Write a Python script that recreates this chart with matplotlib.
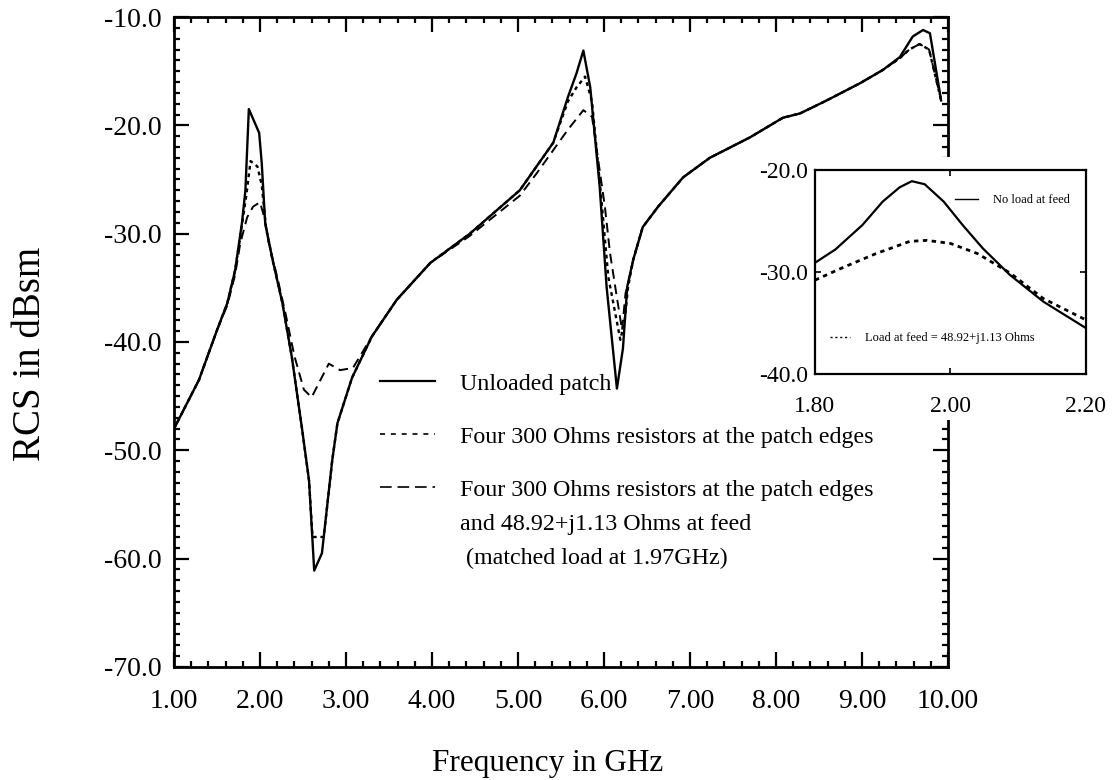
import matplotlib
matplotlib.use("Agg")
import matplotlib.pyplot as plt
from matplotlib.ticker import MultipleLocator, FormatStrFormatter, FixedLocator
from matplotlib.lines import Line2D
from matplotlib.patches import Rectangle

plt.rcParams['font.family'] = ['Liberation Serif', 'DejaVu Serif']
plt.rcParams['axes.unicode_minus'] = False

# unloaded patch (solid)
f_unl = [1.00, 1.29, 1.50, 1.62, 1.71, 1.79, 1.83, 1.87, 1.99, 2.02, 2.06, 2.14, 2.26, 2.37,
         2.49, 2.57, 2.63, 2.72, 2.78, 2.84, 2.90, 3.07, 3.30, 3.59, 3.98, 4.44, 5.02, 5.41,
         5.58, 5.68, 5.76, 5.84, 5.95, 6.03, 6.15, 6.22, 6.27, 6.34, 6.45, 6.63, 6.92, 7.23,
         7.70, 8.08, 8.28, 8.59, 8.98, 9.24, 9.44, 9.59, 9.71, 9.79, 9.92]
rcs_unl = [-48.0, -43.5, -38.9, -36.4, -33.4, -29.0, -26.0, -18.5, -20.7, -23.5, -29.0, -32.2,
           -36.4, -41.4, -48.1, -52.8, -61.1, -59.5, -55.2, -50.9, -47.5, -43.3, -39.5, -36.1,
           -32.7, -30.0, -26.0, -21.6, -17.4, -15.2, -13.1, -16.5, -25.7, -34.9, -44.3, -40.6,
           -34.9, -32.4, -29.4, -27.5, -24.8, -23.0, -21.1, -19.3, -18.9, -17.7, -16.1, -14.9,
           -13.7, -11.8, -11.2, -11.5, -17.7]

# four 300 ohm resistors (dotted)
f_res = [1.00, 1.29, 1.50, 1.62, 1.71, 1.79, 1.84, 1.89, 1.97, 2.02, 2.07, 2.14, 2.26, 2.37,
         2.49, 2.57, 2.61, 2.74, 2.78, 2.84, 2.90, 3.07, 3.30, 3.59, 3.98, 4.44, 5.02, 5.41,
         5.58, 5.68, 5.78, 5.86, 5.96, 6.05, 6.19, 6.24, 6.28, 6.34, 6.45, 6.63, 6.92, 7.23,
         7.70, 8.08, 8.28, 8.59, 8.98, 9.24, 9.44, 9.55, 9.67, 9.78, 9.92]
rcs_res = [-48.0, -43.5, -38.9, -36.4, -33.4, -29.2, -26.5, -23.3, -23.8, -25.5, -29.5, -32.2,
           -36.4, -41.4, -48.1, -52.8, -58.0, -58.0, -55.2, -50.9, -47.5, -43.3, -39.5, -36.1,
           -32.7, -30.0, -26.0, -21.6, -17.8, -16.5, -15.5, -17.8, -26.0, -34.0, -39.8, -38.0,
           -34.9, -32.4, -29.4, -27.5, -24.8, -23.0, -21.1, -19.3, -18.9, -17.7, -16.1, -14.9,
           -13.8, -13.0, -12.5, -13.0, -17.7]

# resistors + matched feed load (dashed)
f_mat = [1.00, 1.29, 1.50, 1.62, 1.71, 1.77, 1.85, 1.92, 2.00, 2.05, 2.10, 2.20, 2.30, 2.40,
         2.51, 2.60, 2.80, 2.93, 3.08, 3.30, 3.59, 3.98, 4.44, 5.02, 5.22, 5.49, 5.58, 5.76,
         5.86, 6.01, 6.07, 6.15, 6.21, 6.25, 6.28, 6.34, 6.45, 6.63, 6.92, 7.23, 7.70, 8.08,
         8.28, 8.59, 8.98, 9.24, 9.44, 9.55, 9.67, 9.78, 9.92]
rcs_mat = [-48.0, -43.5, -38.9, -36.6, -33.8, -30.9, -28.5, -27.5, -27.1, -28.5, -30.8, -34.0,
           -37.5, -41.3, -44.4, -45.1, -42.0, -42.6, -42.4, -39.5, -36.1, -32.7, -30.2, -26.5,
           -24.4, -21.4, -20.4, -18.6, -19.2, -27.5, -31.8, -35.9, -38.9, -35.5, -34.6, -32.4,
           -29.4, -27.5, -24.8, -23.0, -21.1, -19.3, -18.9, -17.7, -16.1, -14.9, -13.8, -13.0,
           -12.5, -13.0, -17.7]

# inset: around 1.8-2.2 GHz
f_in_a = [1.80, 1.83, 1.87, 1.90, 1.925, 1.943, 1.962, 1.99, 2.018, 2.048, 2.088, 2.137, 2.20]
rcs_noload = [-29.1, -27.8, -25.4, -23.1, -21.7, -21.1, -21.4, -23.1, -25.4, -27.7, -30.3, -32.9, -35.5]
f_in_b = [1.80, 1.84, 1.89, 1.94, 1.965, 2.00, 2.04, 2.088, 2.137, 2.20]
rcs_load = [-30.8, -29.6, -28.2, -27.0, -26.9, -27.2, -28.2, -30.1, -32.6, -34.7]

fig = plt.figure(figsize=(11.17, 7.80), dpi=100)
ax = fig.add_axes([0.1558, 0.1449, 0.6929, 0.8333])
ax.set_zorder(0)

ax.plot(f_unl, rcs_unl, color='black', lw=1.7, ls='-')
ax.plot(f_res, rcs_res, color='black', lw=1.7, ls=(0, (1.6, 1.6)))
ax.plot(f_mat, rcs_mat, color='black', lw=1.4, ls=(0, (5, 3)))

ax.set_xlim(1.0, 10.0)
ax.set_ylim(-70.0, -10.0)
ax.xaxis.set_major_locator(MultipleLocator(1.0))
ax.xaxis.set_minor_locator(MultipleLocator(0.2))
ax.yaxis.set_major_locator(MultipleLocator(10.0))
ax.yaxis.set_minor_locator(MultipleLocator(1.0))
ax.xaxis.set_major_formatter(FormatStrFormatter('%.2f'))
ax.yaxis.set_major_formatter(FormatStrFormatter('%.1f'))
ax.tick_params(which='both', direction='in', top=True, right=True, width=1.6, labelsize=20)
ax.tick_params(which='major', length=11)
ax.tick_params(which='minor', length=4)
ax.tick_params(axis='x', pad=16)
ax.tick_params(axis='y', pad=9)
for s in ax.spines.values():
    s.set_linewidth(2.0)

ax.set_xlabel('Frequency in GHz', fontsize=22.5)
ax.set_ylabel('RCS in dBsm', fontsize=28)
ax.xaxis.set_label_coords(0.483, -0.148)
ax.xaxis.label.set_va('center')
ax.yaxis.set_label_coords(-0.185, 0.482)
ax.yaxis.label.set_va('center')

handles = [Line2D([], [], color='black', lw=1.6, ls='-'),
           Line2D([], [], color='black', lw=1.2, ls=(0, (3, 3.5))),
           Line2D([], [], color='black', lw=1.2, ls=(0, (7, 3.5)))]
labels = ['Unloaded patch',
          'Four 300 Ohms resistors at the patch edges',
          'Four 300 Ohms resistors at the patch edges']
ax.legend(handles, labels, loc='center left', bbox_to_anchor=(0.266, 0.354),
          frameon=False, fontsize=17.3, handlelength=2.3, handletextpad=1.05,
          labelspacing=1.3, borderpad=0, borderaxespad=0)
ax.text(0.37, 0.219, 'and 48.92+j1.13 Ohms at feed', transform=ax.transAxes,
        fontsize=17.3, va='center', ha='left')
ax.text(0.37, 0.167, ' (matched load at 1.97GHz)', transform=ax.transAxes,
        fontsize=17.3, va='center', ha='left')

# white backing behind the inset and its labels
fig.add_artist(Rectangle((0.6714, 0.4615), 0.3286, 0.3372, transform=fig.transFigure,
                         facecolor='white', edgecolor='none', zorder=1))

axin = fig.add_axes([0.7296, 0.5205, 0.2426, 0.2616])
axin.set_zorder(2)
axin.plot(f_in_a, rcs_noload, color='black', lw=1.6, ls='-')
axin.plot(f_in_b, rcs_load, color='black', lw=2.0, ls=(0, (1.6, 1.6)))
axin.set_xlim(1.8, 2.2)
axin.set_ylim(-40.0, -20.0)
axin.xaxis.set_major_locator(FixedLocator([1.8, 2.0, 2.2]))
axin.yaxis.set_major_locator(FixedLocator([-40.0, -30.0, -20.0]))
axin.xaxis.set_major_formatter(FormatStrFormatter('%.2f'))
axin.yaxis.set_major_formatter(FormatStrFormatter('%.1f'))
axin.tick_params(direction='in', top=True, right=True, length=4, width=1.2, labelsize=17)
axin.tick_params(axis='x', pad=16)
axin.tick_params(axis='y', pad=5)
for s in axin.spines.values():
    s.set_linewidth(1.6)

leg1 = axin.legend([Line2D([], [], color='black', lw=1.0)], ['No load at feed'],
                   loc='center left', bbox_to_anchor=(0.517, 0.853), frameon=False,
                   fontsize=9, handlelength=1.85, handletextpad=1.2, borderpad=0,
                   borderaxespad=0)
axin.add_artist(leg1)
axin.legend([Line2D([], [], color='black', lw=1.0, ls=(0, (1.5, 2)))],
            ['Load at feed = 48.92+j1.13 Ohms'],
            loc='center left', bbox_to_anchor=(0.055, 0.176), frameon=False,
            fontsize=9, handlelength=1.6, handletextpad=1.2, borderpad=0,
            borderaxespad=0)

fig.savefig('out.png', dpi=100)
